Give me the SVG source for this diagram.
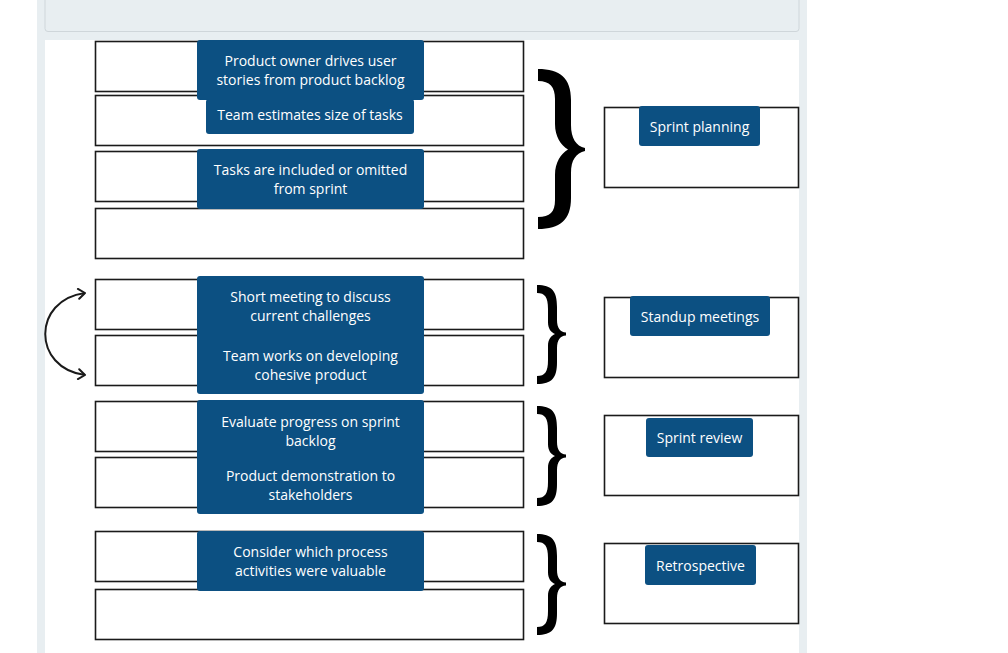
<svg xmlns="http://www.w3.org/2000/svg" width="1008" height="653" viewBox="0 0 1008 653">
<defs>
<style>
.slot{fill:#fff;stroke:#1a1a1a;stroke-width:1.6}
.card{fill:#0c5082}
.t{font-family:"Open Sans","Noto Sans","Liberation Sans",sans-serif;font-size:14px;font-weight:500;fill:#fff;text-anchor:middle}
.brace{fill:#000}
.conn{fill:none;stroke:#1a1a1a;stroke-width:2}
</style>
<marker id="ah" viewBox="0 0 10 12" refX="8" refY="6" markerWidth="10" markerHeight="12" markerUnits="userSpaceOnUse" orient="auto-start-reverse">
<path d="M1.5,1 L8,6 L1.5,11" fill="none" stroke="#1a1a1a" stroke-width="2" stroke-linecap="round" stroke-linejoin="round"/>
</marker>
</defs>
<rect x="0" y="0" width="1008" height="653" fill="#fff"/>
<rect x="37" y="0" width="770" height="653" fill="#e8eef1"/>
<rect x="45" y="-5" width="754" height="36.5" rx="3" fill="#e8eef1" stroke="#cfd6da" stroke-width="1"/>
<rect x="45" y="40" width="754" height="613" fill="#fff"/>

<g id="slots">
<rect class="slot" x="95.5" y="41.5" width="428" height="50"/>
<rect class="slot" x="95.5" y="95.5" width="428" height="50"/>
<rect class="slot" x="95.5" y="151.5" width="428" height="50"/>
<rect class="slot" x="95.5" y="208.5" width="428" height="50"/>
<rect class="slot" x="95.5" y="279.5" width="428" height="50"/>
<rect class="slot" x="95.5" y="335.5" width="428" height="50"/>
<rect class="slot" x="95.5" y="401.5" width="428" height="50"/>
<rect class="slot" x="95.5" y="457.5" width="428" height="50"/>
<rect class="slot" x="95.5" y="531.5" width="428" height="50"/>
<rect class="slot" x="95.5" y="589.5" width="428" height="50"/>
<rect class="slot" x="604.5" y="107.5" width="194" height="80"/>
<rect class="slot" x="604.5" y="297.5" width="194" height="80"/>
<rect class="slot" x="604.5" y="415.5" width="194" height="80"/>
<rect class="slot" x="604.5" y="543.5" width="194" height="80"/>
</g>

<g id="braces">
<path class="brace" d="M538,69 C560,69 571,78 571,100 L571,125 C571,138 576,146 585,148 L585,151 C576,153 571,160 571,173 L571,198 C571,220 560,229 538,229 L538,217 C550,217 555,212 555,200 L555,175 C555,162 561,154 568,149.5 C561,145 555,137 555,124 L555,99 C555,87 550,81 538,81 Z"/>
<path class="brace" d="M537,285 C552,285 557,291 557,307 L557,320 C557,328 560,332 566,332.5 L566,335.5 C560,336 557,340 557,348 L557,362 C557,378 552,384 537,384 L537,376 C545,376 548,372 548,360 L548,346 C548,339 551,336 555,334 C551,332 548,329 548,322 L548,309 C548,297 545,293 537,293 Z"/>
<path class="brace" d="M537,406 C552,406 557,412 557,428 L557,442 C557,450 560,454 566,454.5 L566,457.5 C560,458 557,462 557,470 L557,484 C557,500 552,506 537,506 L537,498 C545,498 548,494 548,482 L548,468 C548,461 551,458 555,456 C551,454 548,451 548,444 L548,430 C548,418 545,414 537,414 Z"/>
<path class="brace" d="M537,534 C552,534 557,540 557,556 L557,570 C557,578 560,582 566,582.5 L566,585.5 C560,586 557,590 557,598 L557,613 C557,629 552,635 537,635 L537,627 C545,627 548,623 548,611 L548,596 C548,589 551,586 555,584 C551,582 548,579 548,572 L548,558 C548,546 545,542 537,542 Z"/>
</g>

<g id="connectors">
<path class="conn" d="M85,293 C32,300 32,368 85,375" marker-start="url(#ah)" marker-end="url(#ah)"/>
</g>

<g id="card-product-owner">
<rect class="card" x="197" y="40" width="227" height="60" rx="3"/>
<text class="t" x="310.5" y="66">Product owner drives user</text>
<text class="t" x="310.5" y="85">stories from product backlog</text>
</g>
<g id="card-team-estimates">
<rect class="card" x="206" y="99" width="208" height="35" rx="3"/>
<text class="t" x="310" y="120">Team estimates size of tasks</text>
</g>
<g id="card-tasks-included">
<rect class="card" x="197" y="149" width="227" height="60" rx="3"/>
<text class="t" x="310.5" y="175">Tasks are included or omitted</text>
<text class="t" x="310.5" y="194">from sprint</text>
</g>
<g id="card-short-meeting">
<rect class="card" x="197" y="276" width="227" height="62" rx="3"/>
<text class="t" x="310.5" y="302">Short meeting to discuss</text>
<text class="t" x="310.5" y="321">current challenges</text>
</g>
<g id="card-team-works">
<rect class="card" x="197" y="333" width="227" height="61" rx="3"/>
<text class="t" x="310.5" y="361">Team works on developing</text>
<text class="t" x="310.5" y="380">cohesive product</text>
</g>
<g id="card-evaluate">
<rect class="card" x="197" y="400" width="227" height="60" rx="3"/>
<text class="t" x="310.5" y="427">Evaluate progress on sprint</text>
<text class="t" x="310.5" y="446">backlog</text>
</g>
<g id="card-demo">
<rect class="card" x="197" y="455" width="227" height="59" rx="3"/>
<text class="t" x="310.5" y="481">Product demonstration to</text>
<text class="t" x="310.5" y="500">stakeholders</text>
</g>
<g id="card-consider">
<rect class="card" x="197" y="531" width="227" height="60" rx="3"/>
<text class="t" x="310.5" y="557">Consider which process</text>
<text class="t" x="310.5" y="576">activities were valuable</text>
</g>

<g id="label-sprint-planning">
<rect class="card" x="639" y="106" width="121" height="40" rx="3"/>
<text class="t" x="699.5" y="132">Sprint planning</text>
</g>
<g id="label-standup">
<rect class="card" x="630" y="296" width="140" height="40" rx="3"/>
<text class="t" x="700" y="322">Standup meetings</text>
</g>
<g id="label-sprint-review">
<rect class="card" x="646" y="418" width="107" height="39" rx="3"/>
<text class="t" x="699.5" y="443">Sprint review</text>
</g>
<g id="label-retrospective">
<rect class="card" x="645" y="545" width="111" height="40" rx="3"/>
<text class="t" x="700.5" y="571">Retrospective</text>
</g>
</svg>
